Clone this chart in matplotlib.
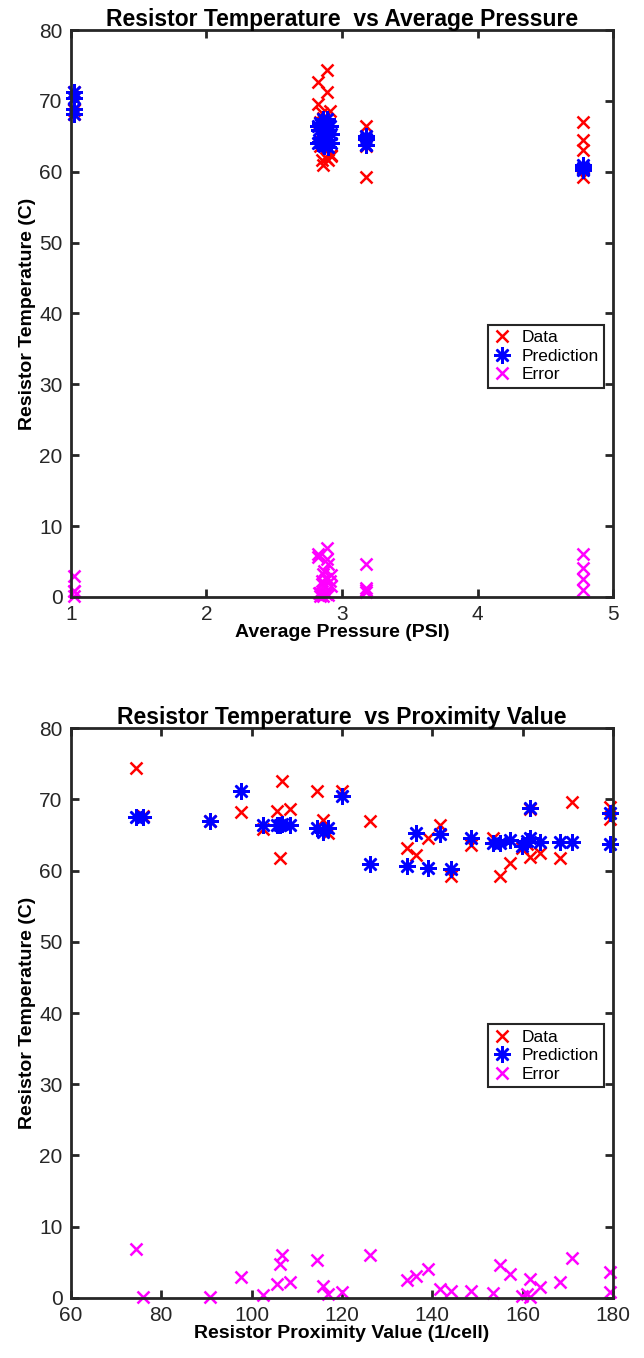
import numpy as np
import matplotlib.pyplot as plt

plt.rcParams['font.family'] = ['Liberation Sans', 'DejaVu Sans']

# resistor proximity value (1/cell) for each test point
proximity = [74.5, 76.0, 90.8, 97.6, 102.6, 105.7, 106.3, 106.8, 108.5, 114.4,
             115.9, 117.0, 120.0, 126.2, 134.5, 136.4, 139.1, 141.7, 144.1, 148.5,
             153.5, 155.0, 157.2, 159.8, 160.9, 161.6, 161.6, 163.8, 168.3, 170.8,
             179.4, 179.4]
# average pressure (PSI) for the same points
pressure = [2.89, 2.86, 2.84, 1.02, 2.88, 2.85, 2.90, 2.82, 2.91, 2.89,
            2.87, 2.83, 1.02, 4.78, 4.78, 2.92, 4.78, 3.18, 4.78, 3.18,
            3.18, 3.18, 2.86, 2.90, 2.84, 2.88, 1.02, 2.92, 2.85, 2.82,
            2.87, 1.02]
temp_data = [74.4, 67.6, 67.0, 68.2, 65.8, 68.3, 61.7, 72.6, 68.6, 71.2,
             67.1, 65.3, 71.2, 67.0, 63.1, 62.2, 64.5, 66.4, 59.2, 63.6,
             64.5, 59.2, 61.0, 63.2, 63.7, 61.9, 68.7, 62.4, 61.7, 69.6,
             67.3, 68.9]
temp_pred = [67.5, 67.5, 66.9, 71.2, 66.4, 66.4, 66.4, 66.5, 66.4, 65.9,
             65.4, 65.9, 70.4, 60.9, 60.6, 65.3, 60.4, 65.1, 60.2, 64.6,
             63.8, 63.8, 64.3, 63.5, 64.2, 64.5, 68.8, 64.0, 64.0, 64.0,
             63.7, 68.1]
temp_err = [6.9, 0.1, 0.1, 3.0, 0.4, 1.9, 4.7, 6.1, 2.2, 5.3,
            1.7, 0.6, 0.8, 6.1, 2.5, 3.1, 4.1, 1.3, 1.0, 1.0,
            0.7, 4.6, 3.3, 0.3, 0.5, 2.6, 0.1, 1.6, 2.3, 5.6,
            3.6, 0.8]

AX_COLOR = '#262626'
STAR = (8, 2, 0)


def style_axes(ax, xlim, xticks, xlabel, title):
    ax.set_xlim(*xlim)
    ax.set_ylim(0, 80)
    ax.set_xticks(xticks)
    ax.set_yticks(np.arange(0, 81, 10))
    for s in ax.spines.values():
        s.set_linewidth(2)
        s.set_color(AX_COLOR)
    ax.tick_params(direction='in', length=6, width=2, color=AX_COLOR,
                   labelsize=15, labelcolor=AX_COLOR, top=True, right=True)
    ax.tick_params(axis='y', pad=6)
    ax.tick_params(axis='x', pad=6)
    ax.set_xlabel(xlabel, fontsize=14, fontweight='bold', labelpad=0)
    ax.set_ylabel('Resistor Temperature (C)', fontsize=14, fontweight='bold', labelpad=2)
    ax.set_title(title, fontsize=16.5, fontweight='bold', pad=3)
    leg = ax.legend(loc='upper left', bbox_to_anchor=(0.77, 0.48), fontsize=12.5,
                    fancybox=False, framealpha=1, edgecolor=AX_COLOR,
                    handlelength=1.0, handletextpad=0.6, borderpad=0.3,
                    labelspacing=0.2, borderaxespad=0)
    leg.get_frame().set_linewidth(1.5)


def plot_series(ax, x):
    ax.plot(x, temp_data, 'x', color='red', markersize=8, mew=1.8, label='Data', clip_on=False)
    ax.plot(x, temp_pred, marker=STAR, ls='none', color='blue', markersize=12, mew=1.8,
            label='Prediction', clip_on=False)
    ax.plot(x, temp_err, 'x', color='magenta', markersize=8, mew=1.8, label='Error', clip_on=False)


fig = plt.figure(figsize=(6.44, 13.58), dpi=100)

ax1 = fig.add_axes([0.110, 0.5604, 0.842, 0.4175])
plot_series(ax1, pressure)
style_axes(ax1, (1, 5), [1, 2, 3, 4, 5], 'Average Pressure (PSI)',
           'Resistor Temperature  vs Average Pressure')

ax2 = fig.add_axes([0.110, 0.0442, 0.842, 0.4197])
plot_series(ax2, proximity)
style_axes(ax2, (60, 180), np.arange(60, 181, 20), 'Resistor Proximity Value (1/cell)',
           'Resistor Temperature  vs Proximity Value')

fig.savefig('out.png', dpi=100)
